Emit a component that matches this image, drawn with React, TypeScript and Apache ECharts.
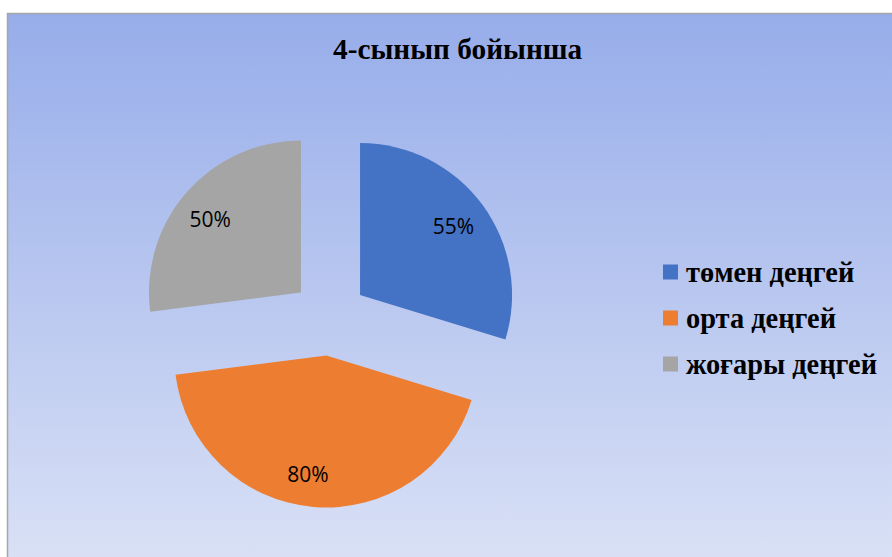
import React, { useEffect, useRef } from "react";
import * as echarts from "echarts";

const titleText = "4-сынып бойынша";
const categories = ["төмен деңгей", "орта деңгей", "жоғары деңгей"];
const values = [55, 80, 50];
const valueLabels = ["55%", "80%", "50%"];
const colors = ["#4472c4", "#ed7d31", "#a5a5a5"];
const labelOffsets = [[-4, 3], [-8, -2], [0, 6]];

export default function App() {
  const ref = useRef<HTMLDivElement>(null);
  useEffect(() => {
    if (!ref.current) return;
    const chart = echarts.init(ref.current, undefined, { renderer: "svg" });
    const center = [329.5, 317.6];
    chart.setOption({
      animation: false,
      graphic: [
        {
          type: "rect",
          z: -100,
          silent: true,
          shape: { x: 7.5, y: 13.5, width: 900, height: 560 },
          style: {
            fill: new echarts.graphic.LinearGradient(0, 0, 0, 1, [
              { offset: 0, color: "#97adea" },
              { offset: 1, color: "#dbe2f6" },
            ]),
            stroke: "#a6a6a6",
            lineWidth: 1.5,
          },
        },
      ],
      title: {
        text: titleText,
        left: 333,
        top: 34,
        padding: 0,
        textStyle: {
          fontFamily: "Liberation Serif",
          fontWeight: "bold",
          fontSize: 29.3,
          color: "#000",
          lineHeight: 30,
        },
      },
      legend: {
        orient: "vertical",
        left: 663,
        top: 258,
        padding: 0,
        itemWidth: 15,
        itemHeight: 15,
        itemGap: 18,
        icon: "rect",
        selectedMode: false,
        data: categories,
        textStyle: {
          fontFamily: "Liberation Serif",
          fontWeight: "bold",
          fontSize: 28.4,
          lineHeight: 28,
          color: "#000",
          padding: [0, 0, 0, 3],
        },
      },
      series: [
        {
          type: "pie",
          center,
          radius: [0, 152],
          startAngle: 90,
          clockwise: true,
          selectedMode: "multiple",
          selectedOffset: 38,
          label: { show: false },
          labelLine: { show: false },
          emphasis: { disabled: true },
          data: categories.map((name, i) => ({
            name,
            value: values[i],
            selected: true,
            itemStyle: { color: colors[i] },
            select: { itemStyle: { color: colors[i] } },
          })),
        },
        {
          type: "pie",
          center,
          radius: [84, 152],
          startAngle: 90,
          clockwise: true,
          silent: true,
          selectedMode: "multiple",
          selectedOffset: 38,
          legendHoverLink: false,
          label: {
            show: true,
            position: "inside",
            fontFamily: "Open Sans",
            fontSize: 21,
            color: "#000",
            formatter: (p: any) => valueLabels[p.dataIndex],
          },
          labelLayout: (p: any) => ({
            dx: labelOffsets[p.dataIndex][0],
            dy: labelOffsets[p.dataIndex][1],
          }),
          labelLine: { show: false },
          emphasis: { disabled: true },
          data: categories.map((name, i) => ({
            name: name + " ",
            value: values[i],
            selected: true,
            itemStyle: { color: "transparent" },
            select: { itemStyle: { color: "transparent" } },
          })),
        },
      ],
    });
    return () => chart.dispose();
  }, []);
  return (
    <div
      ref={ref}
      style={{ position: "absolute", left: 0, top: 0, width: 892, height: 557 }}
    />
  );
}
